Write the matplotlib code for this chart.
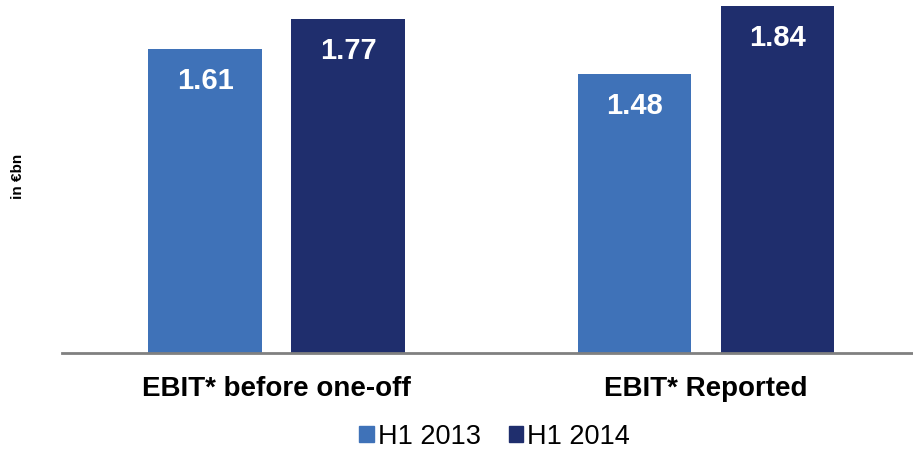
import matplotlib
matplotlib.use("Agg")
import matplotlib.pyplot as plt
import numpy as np
from matplotlib.patches import Patch

plt.rcParams['font.family'] = ['Liberation Sans', 'DejaVu Sans']

categories = ['EBIT* before one-off', 'EBIT* Reported']
series_names = ['H1 2013', 'H1 2014']
h1_2013 = [1.61, 1.48]
h1_2014 = [1.77, 1.84]
colors = ['#3F72B8', '#1F2E6D']

fig = plt.figure(figsize=(9.13, 4.53), dpi=100)
ax = fig.add_axes([0.068, 0.221, 0.932, 0.779])

x = np.arange(len(categories))
w = 0.265
off = 0.1665
for vals, dx, c in [(h1_2013, -off, colors[0]), (h1_2014, off, colors[1])]:
    bars = ax.bar(x + dx, vals, width=w, color=c)
    for b, v in zip(bars, vals):
        ax.text(b.get_x() + b.get_width() / 2, v - 0.17, f'{v:.2f}',
                ha='center', va='center', color='white', fontsize=21,
                fontweight='bold')

ax.set_xlim(-0.5, 1.482)
ax.set_ylim(0, 1.87)
ax.set_yticks([])
ax.set_xticks(x)
ax.set_xticklabels(categories, fontsize=20, fontweight='bold')
ax.tick_params(axis='x', length=0, pad=17)
for s in ['top', 'right', 'left']:
    ax.spines[s].set_visible(False)
ax.spines['bottom'].set_color('#808080')
ax.spines['bottom'].set_linewidth(2)

fig.text(0.02, 0.61, 'in €bn', rotation=90, ha='center', va='center',
         fontsize=11, fontweight='bold')

handles = [Patch(color=c) for c in colors]
fig.legend(handles, series_names, loc='center', bbox_to_anchor=(0.542, 0.036),
           ncol=2, frameon=False, fontsize=19.5, handlelength=0.55,
           handleheight=0.55, handletextpad=0.15, columnspacing=1.0,
           borderpad=0.2)

fig.savefig('out.png', dpi=100)
